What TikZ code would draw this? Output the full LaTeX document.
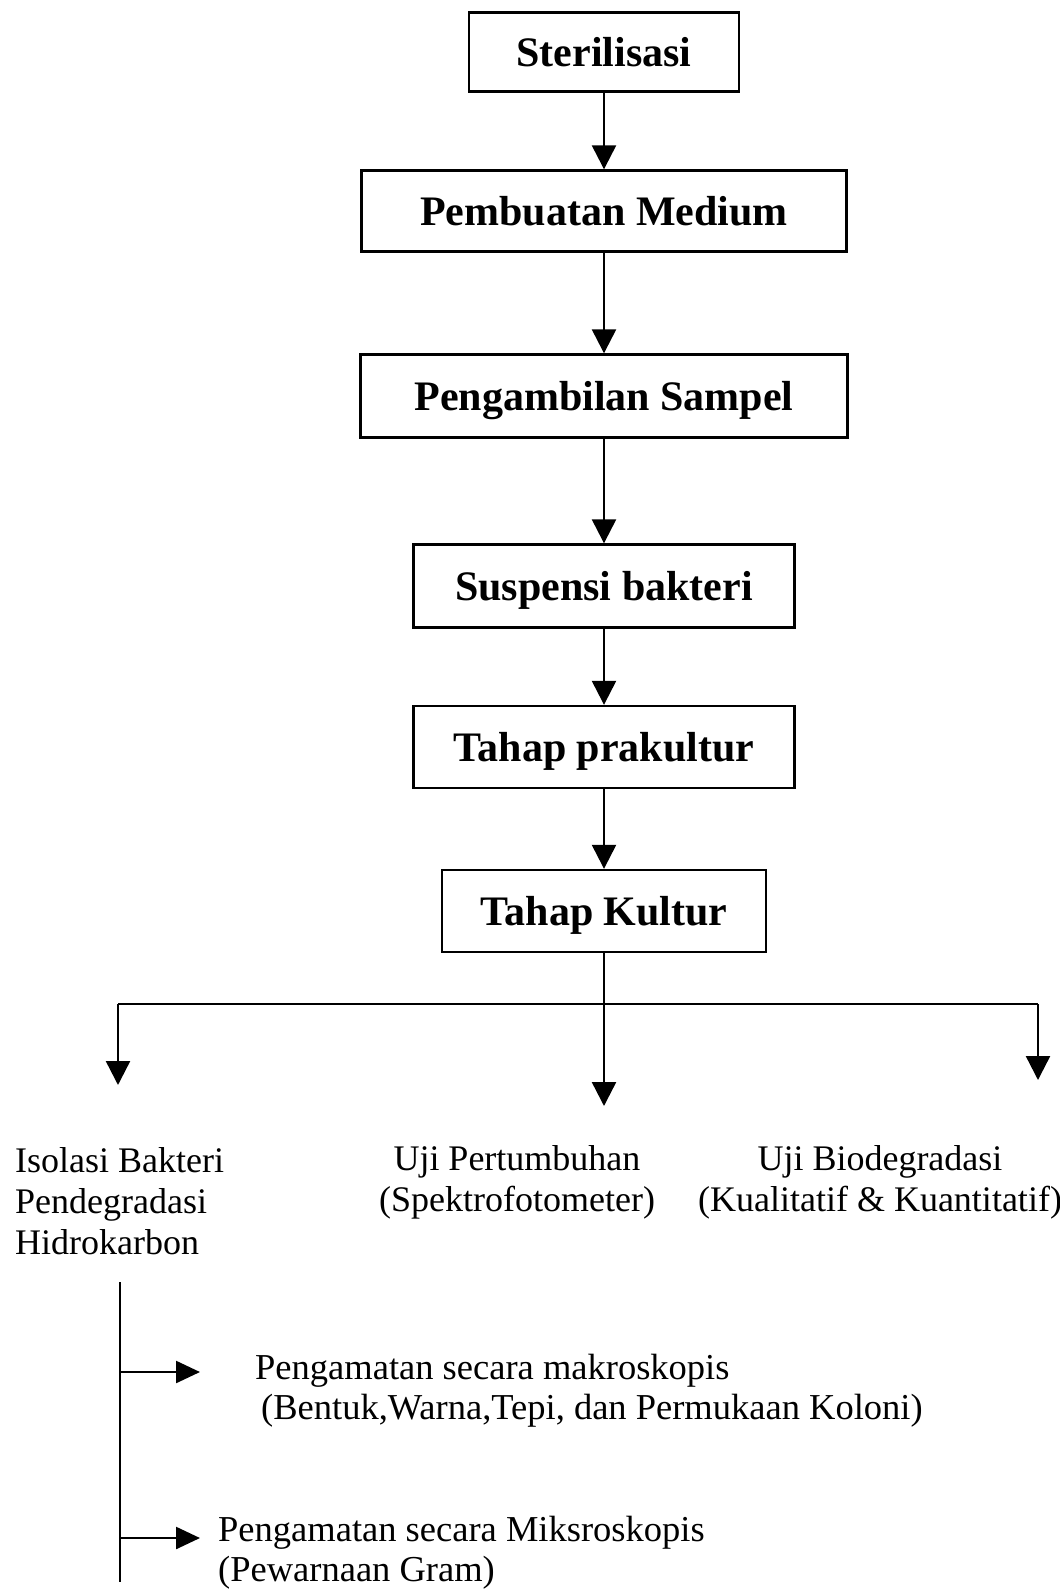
\documentclass[tikz,border=0pt]{standalone}
\usepackage{fontspec}
\setmainfont{Liberation Serif}
\usetikzlibrary{arrows.meta}
\begin{document}
\begin{tikzpicture}[x=1pt,y=-1pt,line width=2.4pt,
  box/.style={draw,rectangle,inner sep=0pt,font=\fontsize{42}{48}\selectfont\bfseries,text height=28pt,text depth=0pt},
  arr/.style={-{Triangle[length=24pt,width=24pt]}},
  sarr/.style={-{Triangle[length=24pt,width=22pt]}},
  lbl/.style={font=\fontsize{36}{41}\selectfont,inner sep=0pt}]
\useasboundingbox[fill=white] (0,0) rectangle (1060,1591);
\node[box,minimum width=270pt,minimum height=79pt] (s1) at (604,52) {Sterilisasi};
\node[box,minimum width=485pt,minimum height=81pt] (s2) at (604,211) {Pembuatan Medium};
\node[box,minimum width=487pt,minimum height=83pt] (s3) at (604,396) {Pengambilan Sampel};
\node[box,minimum width=381pt,minimum height=83pt] (s4) at (604,586) {Suspensi bakteri};
\node[box,minimum width=381pt,minimum height=82pt] (s5) at (604,747) {Tahap prakultur};
\node[box,minimum width=324pt,minimum height=82pt] (s6) at (604,911) {Tahap Kultur};
\draw[arr] (s1) -- (s2);
\draw[arr] (s2) -- (s3);
\draw[arr] (s3) -- (s4);
\draw[arr] (s4) -- (s5);
\draw[arr] (s5) -- (s6);
\coordinate (jl) at (118,1004);
\coordinate (jr) at (1038,1004);
\coordinate (el) at (118,1085);
\coordinate (em) at (604,1106);
\coordinate (er) at (1038,1080);
\draw (jl) -- (jr);
\draw[arr] (s6.south) -- (em);
\draw[arr] (jl) -- (el);
\draw[arr] (jr) -- (er);
\node[lbl,align=left,anchor=north west] (t1) at (14,1146) {Isolasi Bakteri\\Pendegradasi\\Hidrokarbon};
\node[lbl,align=center,anchor=north] (t2) at (517,1144) {Uji Pertumbuhan\\(Spektrofotometer)};
\node[lbl,align=center,anchor=north] (t3) at (880,1144) {Uji Biodegradasi\\(Kualitatif \& Kuantitatif)};
\coordinate (v1) at (120,1282);
\coordinate (v2) at (120,1582);
\coordinate (a1) at (120,1372);
\coordinate (b1) at (200,1372);
\coordinate (a2) at (120,1538);
\coordinate (b2) at (200,1538);
\draw (v1) -- (v2);
\draw[sarr] (a1) -- (b1);
\draw[sarr] (a2) -- (b2);
\node[lbl,align=left,anchor=north west,font=\fontsize{36.5}{40}\selectfont] (t4) at (254,1353) {Pengamatan secara makroskopis\\\hspace*{6pt}(Bentuk,Warna,Tepi, dan Permukaan Koloni)};
\node[lbl,align=left,anchor=north west,font=\fontsize{36.5}{40}\selectfont] (t5) at (217,1515) {Pengamatan secara Miksroskopis\\(Pewarnaan Gram)};
\end{tikzpicture}
\end{document}
